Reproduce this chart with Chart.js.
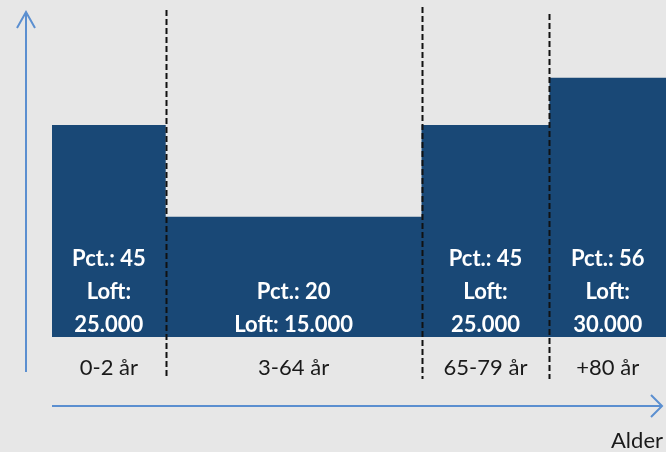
<!DOCTYPE html>
<html>
<head>
<meta charset="utf-8">
<script src="https://cdn.jsdelivr.net/npm/chart.js@4/dist/chart.umd.min.js"></script>
<style>
  html, body { margin: 0; padding: 0; background: #e7e7e7; }
  canvas { display: block; }
</style>
</head>
<body>
<canvas id="chart" width="666" height="452"></canvas>
<script>
// age groups and their relative widths on the age axis
const ageGroups = ['0-2 år', '3-64 år', '65-79 år', '+80 år'];
const groupWidths = [2, 4.5, 2.25, 2.05];
// bar heights
const barHeights = [45, 25.5, 45, 55];
// percentages and ceilings shown in the bars
const pctValues = [45, 20, 45, 56];
const loftValues = ['25.000', '15.000', '25.000', '30.000'];

const font = 'Lato, "DejaVu Sans", sans-serif';
const arrowColor = '#5b8fd0';
const barColor = '#194876';

// left edges of each group
const edges = [0];
groupWidths.forEach((w, i) => edges.push(edges[i] + w));

const stepPoints = barHeights.map((h, i) => ({ x: edges[i], y: h }));
stepPoints.push({ x: edges[edges.length - 1], y: barHeights[barHeights.length - 1] });

const decorations = {
  id: 'decorations',
  afterDraw(chart) {
    const ctx = chart.ctx;
    const xs = chart.scales.x;
    const ys = chart.scales.y;
    const base = ys.getPixelForValue(0);

    ctx.save();

    // dashed separators between groups
    const dashTops = [10, 7, 14];
    ctx.strokeStyle = '#111111';
    ctx.lineWidth = 2;
    ctx.setLineDash([6, 3]);
    for (let i = 1; i < edges.length - 1; i++) {
      const x = Math.round(xs.getPixelForValue(edges[i])) + 0.5;
      ctx.beginPath();
      ctx.moveTo(x, dashTops[i - 1]);
      ctx.lineTo(x, base + 42);
      ctx.stroke();
    }
    ctx.setLineDash([]);

    // labels inside bars and under bars
    ctx.textAlign = 'center';
    ctx.textBaseline = 'alphabetic';
    ageGroups.forEach((label, i) => {
      const left = xs.getPixelForValue(edges[i]);
      const right = xs.getPixelForValue(edges[i + 1]);
      const cx = (left + right) / 2;
      let lines;
      if (right - left > 200) {
        lines = ['Pct.: ' + pctValues[i], 'Loft: ' + loftValues[i]];
      } else {
        lines = ['Pct.: ' + pctValues[i], 'Loft:', loftValues[i]];
      }
      ctx.fillStyle = '#ffffff';
      ctx.font = 'bold 22px ' + font;
      lines.forEach((t, j) => {
        const y = base - 5 - (lines.length - 1 - j) * 33;
        ctx.fillText(t, cx, y);
      });
      ctx.fillStyle = '#1a1a1a';
      ctx.font = '22px ' + font;
      ctx.fillText(label, cx, base + 38);
    });

    // axis arrows
    ctx.strokeStyle = arrowColor;
    ctx.lineWidth = 2;
    ctx.beginPath();
    ctx.moveTo(26, 372);
    ctx.lineTo(26, 12);
    ctx.moveTo(17, 28);
    ctx.lineTo(26, 12);
    ctx.lineTo(35, 28);
    ctx.stroke();

    ctx.beginPath();
    ctx.moveTo(52, 406);
    ctx.lineTo(662, 406);
    ctx.moveTo(651, 395);
    ctx.lineTo(662, 406);
    ctx.lineTo(651, 417);
    ctx.stroke();

    ctx.fillStyle = '#1a1a1a';
    ctx.font = '22px ' + font;
    ctx.textAlign = 'right';
    ctx.fillText('Alder', 663, 448);

    ctx.restore();
  }
};

new Chart(document.getElementById('chart'), {
  type: 'line',
  data: {
    datasets: [{
      data: stepPoints,
      stepped: 'before',
      fill: 'origin',
      backgroundColor: barColor,
      borderColor: 'rgba(0,0,0,0)',
      borderWidth: 0,
      pointRadius: 0,
      tension: 0
    }]
  },
  options: {
    responsive: false,
    animation: false,
    devicePixelRatio: 1,
    layout: { padding: { left: 52, right: 0, top: 0, bottom: 115 } },
    plugins: { legend: { display: false }, tooltip: { enabled: false } },
    scales: {
      x: { type: 'linear', display: false, min: 0, max: edges[edges.length - 1] },
      y: { display: false, min: 0, max: 71.5 }
    }
  },
  plugins: [decorations]
});
</script>
</body>
</html>
